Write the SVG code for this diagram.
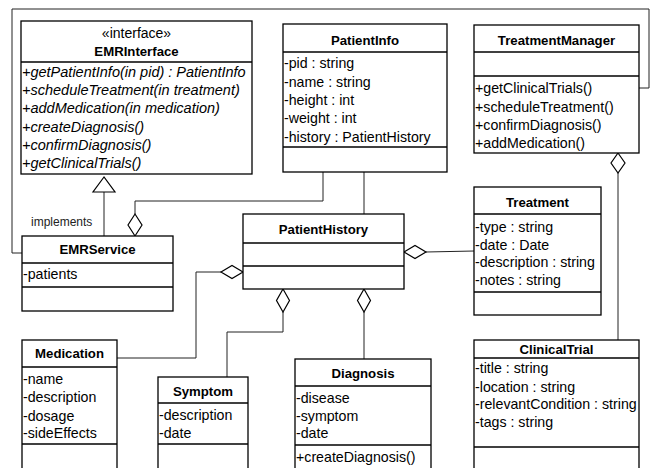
<svg xmlns="http://www.w3.org/2000/svg" width="651" height="468" viewBox="0 0 651 468">
<style>
.box{fill:#fff;stroke:#000;stroke-width:1.3}
.dv{stroke:#000;stroke-width:1.3}
.t{font-family:"Liberation Sans",Arial,sans-serif;font-size:14.2px;fill:#000}
.b{font-weight:bold;text-anchor:middle;font-size:13.2px}
.m{text-anchor:middle;font-size:14px}
.i{font-style:italic;font-size:14.5px}
.s{font-size:12px;fill:#222}
.c{fill:none;stroke:#222;stroke-width:1}
.d{fill:#fff;stroke:#000;stroke-width:1.2}
</style>
<rect width="651" height="468" fill="#fff"/>
<g id="connectors">
<polyline class="c" points="22,253 12,253 12,9 649,9 649,88 639,88"/>
<line class="c" x1="104" y1="236" x2="104" y2="192"/>
<polygon class="d" points="104,177 93,192 115,192"/>
<polyline class="c" points="323,172 323,201 135,201 135,214"/>
<polygon class="d" points="135,214 142,225 135,236 128,225"/>
<line class="c" x1="364" y1="172" x2="364" y2="214"/>
<line class="c" x1="426" y1="252" x2="474" y2="251"/>
<polygon class="d" points="404,252 415,245.5 426,252 415,258.5"/>
<polyline class="c" points="117,358 196,358 196,272 221,272"/>
<polygon class="d" points="221,272 232,265.5 243,272 232,278.5"/>
<polyline class="c" points="227,377 227,332 283,332 283,312"/>
<polygon class="d" points="283,289 289.5,300.5 283,312 276.5,300.5"/>
<line class="c" x1="364" y1="312" x2="364" y2="359"/>
<polygon class="d" points="364,289 370.5,300.5 364,312 357.5,300.5"/>
<line class="c" x1="618" y1="173" x2="618" y2="340"/>
<polygon class="d" points="618,153 625,163 618,173 611,163"/>
<text class="t s" x="31" y="226">implements</text>
</g>
<g id="EMRInterface">
<rect class="box" x="21" y="21" width="231" height="153"/>
<line class="dv" x1="21" y1="62" x2="252" y2="62"/>
<text class="t m" x="136.5" y="38">«interface»</text>
<text class="t b" x="136.5" y="56">EMRInterface</text>
<text class="t i" x="22" y="77">+getPatientInfo(in pid) : PatientInfo</text>
<text class="t i" x="22" y="95">+scheduleTreatment(in treatment)</text>
<text class="t i" x="22" y="113">+addMedication(in medication)</text>
<text class="t i" x="22" y="132">+createDiagnosis()</text>
<text class="t i" x="22" y="150">+confirmDiagnosis()</text>
<text class="t i" x="22" y="168">+getClinicalTrials()</text>
</g>
<g id="PatientInfo">
<rect class="box" x="283" y="24" width="164" height="148"/>
<line class="dv" x1="283" y1="52" x2="447" y2="52"/>
<line class="dv" x1="283" y1="147" x2="447" y2="147"/>
<text class="t b" x="365" y="45">PatientInfo</text>
<text class="t" x="284" y="68">-pid : string</text>
<text class="t" x="284" y="87">-name : string</text>
<text class="t" x="284" y="105">-height : int</text>
<text class="t" x="284" y="123">-weight : int</text>
<text class="t" x="284" y="142">-history : PatientHistory</text>
</g>
<g id="TreatmentManager">
<rect class="box" x="474" y="25" width="165" height="128"/>
<line class="dv" x1="474" y1="52" x2="639" y2="52"/>
<line class="dv" x1="474" y1="76" x2="639" y2="76"/>
<text class="t b" x="556.5" y="45">TreatmentManager</text>
<text class="t" x="475" y="93">+getClinicalTrials()</text>
<text class="t" x="475" y="112">+scheduleTreatment()</text>
<text class="t" x="475" y="130">+confirmDiagnosis()</text>
<text class="t" x="475" y="148">+addMedication()</text>
</g>
<g id="EMRService">
<rect class="box" x="22" y="236" width="151" height="75"/>
<line class="dv" x1="22" y1="263" x2="173" y2="263"/>
<line class="dv" x1="22" y1="287" x2="173" y2="287"/>
<text class="t b" x="97.5" y="254">EMRService</text>
<text class="t" x="23" y="279">-patients</text>
</g>
<g id="PatientHistory">
<rect class="box" x="243" y="214" width="161" height="75"/>
<line class="dv" x1="243" y1="243" x2="404" y2="243"/>
<line class="dv" x1="243" y1="266" x2="404" y2="266"/>
<text class="t b" x="323.5" y="234">PatientHistory</text>
</g>
<g id="Treatment">
<rect class="box" x="474" y="187" width="127" height="128"/>
<line class="dv" x1="474" y1="214" x2="601" y2="214"/>
<line class="dv" x1="474" y1="292" x2="601" y2="292"/>
<text class="t b" x="537.5" y="207">Treatment</text>
<text class="t" x="475" y="232">-type : string</text>
<text class="t" x="475" y="250">-date : Date</text>
<text class="t" x="475" y="267">-description : string</text>
<text class="t" x="475" y="285">-notes : string</text>
</g>
<g id="Medication">
<rect class="box" x="22" y="340" width="95" height="129"/>
<line class="dv" x1="22" y1="367" x2="117" y2="367"/>
<line class="dv" x1="22" y1="444" x2="117" y2="444"/>
<text class="t b" x="69.5" y="358">Medication</text>
<text class="t" x="23" y="384">-name</text>
<text class="t" x="23" y="402">-description</text>
<text class="t" x="23" y="421">-dosage</text>
<text class="t" x="23" y="438">-sideEffects</text>
</g>
<g id="Symptom">
<rect class="box" x="158" y="377" width="90" height="92"/>
<line class="dv" x1="158" y1="403" x2="248" y2="403"/>
<line class="dv" x1="158" y1="444" x2="248" y2="444"/>
<text class="t b" x="203" y="396">Symptom</text>
<text class="t" x="159" y="420">-description</text>
<text class="t" x="159" y="438">-date</text>
</g>
<g id="Diagnosis">
<rect class="box" x="295" y="359" width="136" height="110"/>
<line class="dv" x1="295" y1="386" x2="431" y2="386"/>
<line class="dv" x1="295" y1="445" x2="431" y2="445"/>
<text class="t b" x="363" y="378">Diagnosis</text>
<text class="t" x="296" y="403">-disease</text>
<text class="t" x="296" y="421">-symptom</text>
<text class="t" x="296" y="438">-date</text>
<text class="t" x="296" y="462">+createDiagnosis()</text>
</g>
<g id="ClinicalTrial">
<rect class="box" x="474" y="340" width="165" height="129"/>
<line class="dv" x1="474" y1="358" x2="639" y2="358"/>
<line class="dv" x1="474" y1="447" x2="639" y2="447"/>
<text class="t b" x="556.5" y="354">ClinicalTrial</text>
<text class="t" x="475" y="373">-title : string</text>
<text class="t" x="475" y="392">-location : string</text>
<text class="t" x="475" y="409">-relevantCondition : string</text>
<text class="t" x="475" y="427">-tags : string</text>
</g>
</svg>
